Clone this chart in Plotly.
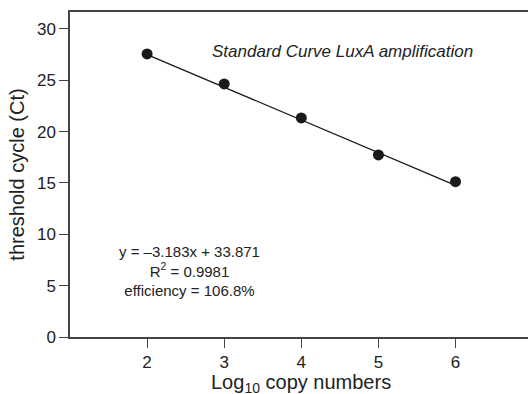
import plotly.graph_objects as go

log_copies = [2, 3, 4, 5, 6]
ct_values = [27.57, 24.64, 21.33, 17.73, 15.13]
slope = -3.183
intercept = 33.871
x_ticks = [2, 3, 4, 5, 6]
y_ticks = [0, 5, 10, 15, 20, 25, 30]

fit_x = [log_copies[0], log_copies[-1]]
fit_y = [slope * v + intercept for v in fit_x]

fig = go.Figure()
fig.add_trace(go.Scatter(x=fit_x, y=fit_y, mode="lines",
                         line=dict(color="#1a1a1a", width=1.3), showlegend=False))
fig.add_trace(go.Scatter(x=log_copies, y=ct_values, mode="markers",
                         marker=dict(color="#1a1a1a", size=11), showlegend=False))

font = "Liberation Sans, Arial, sans-serif"
fig.update_layout(
    width=528, height=394,
    margin=dict(l=70, r=0, t=12, b=57),
    paper_bgcolor="white", plot_bgcolor="white",
    font=dict(family=font, color="#222222"),
    xaxis=dict(range=[1, 6.94], tickvals=x_ticks, showgrid=False, zeroline=False,
               showline=True, linecolor="#444444", linewidth=1.5, mirror=True,
               ticks="outside", ticklen=9, tickwidth=1.3, tickcolor="#444444",
               tickfont=dict(size=17, family=font, color="#222222")),
    yaxis=dict(range=[0, 31.65], tickvals=y_ticks, showgrid=False, zeroline=False,
               showline=True, linecolor="#444444", linewidth=1.5,
               ticks="outside", ticklen=9, tickwidth=1.3, tickcolor="#444444",
               tickfont=dict(size=17, family=font, color="#222222"),
               title=dict(text="threshold cycle (Ct)", standoff=7,
                          font=dict(size=20, family=font, color="#222222"))),
)
fig.add_annotation(x=0.504, y=0, xref="paper", yref="paper",
                   xanchor="center", yanchor="middle", yshift=-46,
                   text="Log<sub>10</sub> copy numbers", showarrow=False,
                   font=dict(size=20, family=font, color="#222222"))
fig.add_annotation(x=0.594, y=0.88, xref="paper", yref="paper",
                   xanchor="center", yanchor="middle",
                   text="<i>Standard Curve LuxA amplification</i>", showarrow=False,
                   font=dict(size=17, family=font, color="#222222"))
fig.add_annotation(x=0.262, y=0.203, xref="paper", yref="paper",
                   xanchor="center", yanchor="middle",
                   text="y = \u20133.183x + 33.871<br>R<sup>2</sup> = 0.9981<br>efficiency = 106.8%",
                   showarrow=False, align="center",
                   font=dict(size=15, family=font, color="#222222"))
fig.write_html("out.html", config={"displayModeBar": False},
               post_script="document.body.style.margin='0';")
